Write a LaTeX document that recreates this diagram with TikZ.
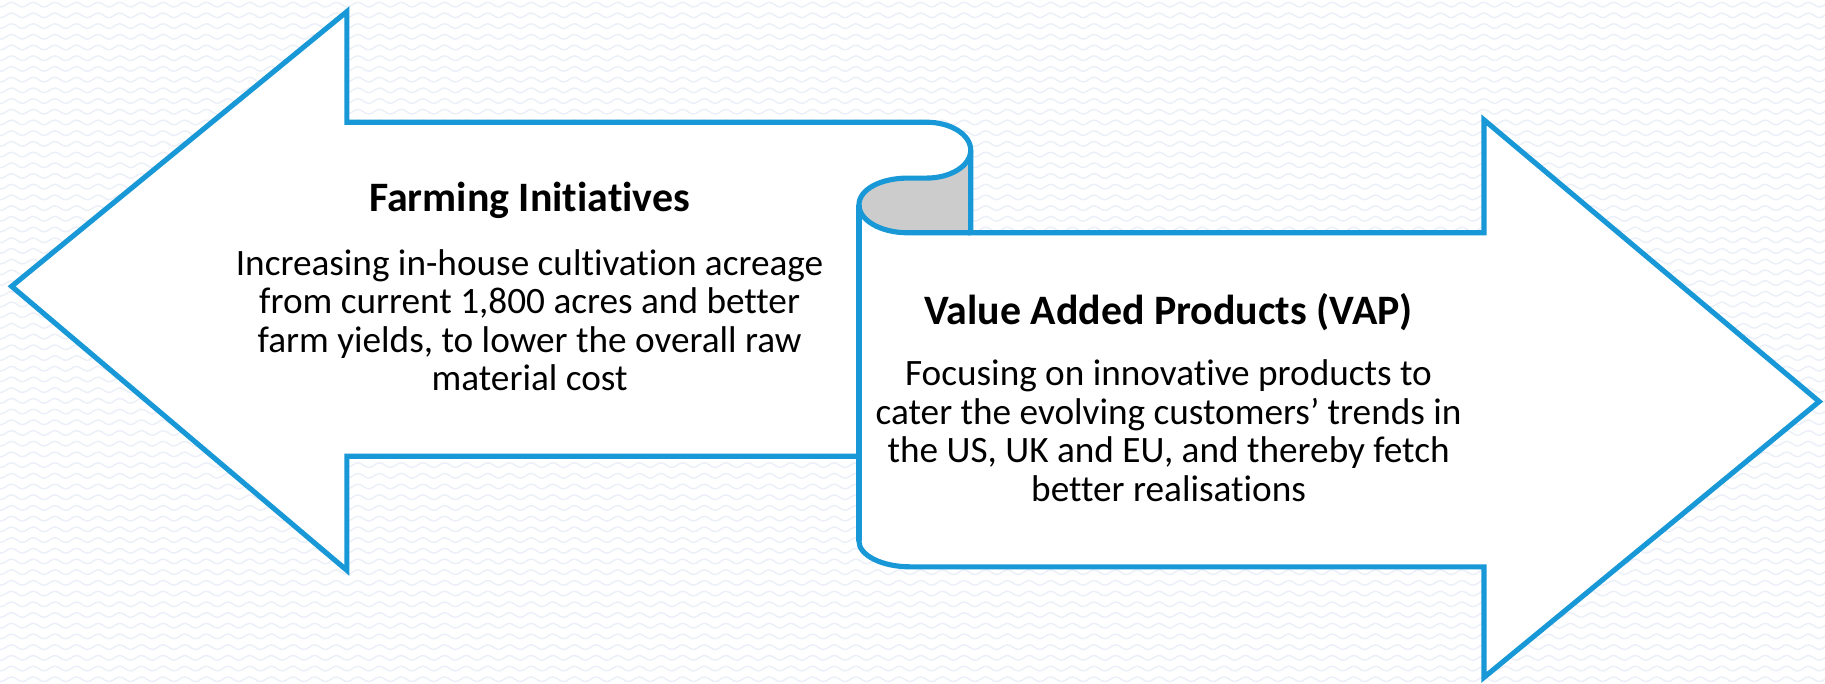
\documentclass[tikz,border=0pt]{standalone}
\usepackage{fontspec}
\setmainfont{Carlito}[Ligatures={NoCommon}]
\definecolor{scrollblue}{RGB}{24,152,214}
\definecolor{curlgray}{RGB}{204,204,204}
\definecolor{wavegray}{RGB}{235,239,248}
\tikzset{
  outline/.style={draw=scrollblue, line width=4.4pt, miter limit=20},
  wave/.style={draw=wavegray, line width=1.2pt},
  headtext/.style={font=\bfseries\fontsize{36}{40}\selectfont, inner sep=0pt},
  bodytext/.style={font=\fontsize{32}{33}\selectfont, align=center, inner sep=0pt},
}
\begin{document}
\begin{tikzpicture}[x=1pt, y=-1pt]
  % canvas
  \fill[white] (0,0) rectangle (1568,587);
  \useasboundingbox (0,0) rectangle (1568,587);
  % faint wavy background texture
  \begin{scope}
    \clip (0,0) rectangle (1568,587);
    \foreach \r in {0,...,64} {
      \draw[wave] (-4,{4+9.2*\r})
        foreach \i in {1,...,86} { sin ++(4.65,2) cos ++(4.65,-2) sin ++(4.65,-2) cos ++(4.65,2) };
    }
  \end{scope}

  % outer outline of the two opposing arrows joined by the scroll
  \path[fill=white]
    (298,105) -- (796,105)
    .. controls (817,105) and (834,115.7) .. (834,129)
    -- (834,200) -- (1275,200) -- (1275,103) -- (1563,345) -- (1275,582)
    -- (1275,487) -- (782,487)
    .. controls (757.7,487) and (738,477.1) .. (738,465)
    -- (738,392) -- (298,392) -- (298,490) -- (10,246) -- (298,10) -- cycle;

  % rolled part of the scroll
  \path[fill=curlgray]
    (834,129) .. controls (834,142.3) and (817,153) .. (796,153)
    -- (780,153)
    .. controls (756.8,153) and (738,162.7) .. (738,176)
    .. controls (738,189.3) and (756.8,200) .. (780,200)
    -- (834,200) -- cycle;

  % strokes
  \draw[outline]
    (298,105) -- (796,105)
    .. controls (817,105) and (834,115.7) .. (834,129)
    -- (834,200) -- (1275,200) -- (1275,103) -- (1563,345) -- (1275,582)
    -- (1275,487) -- (782,487)
    .. controls (757.7,487) and (738,477.1) .. (738,465)
    -- (738,392) -- (298,392) -- (298,490) -- (10,246) -- (298,10) -- cycle;
  \draw[outline, line join=round]
    (834,129) .. controls (834,142.3) and (817,153) .. (796,153)
    -- (780,153)
    .. controls (756.8,153) and (738,162.7) .. (738,176)
    .. controls (738,189.3) and (756.8,200) .. (780,200)
    -- (834,200);
  \draw[outline] (738,176) -- (738,465);

  % texts
  \node[headtext] (farmtitle) at (455,172) {Farming Initiatives};
  \node[bodytext] (farmbody) at (455,275)
    {Increasing in-house cultivation acreage\\
     from current 1,800 acres and better\\
     farm yields, to lower the overall raw\\
     material cost};
  \node[headtext] (vaptitle) at (1004,268) {Value Added Products (VAP)};
  \node[bodytext] (vapbody) at (1004,370)
    {Focusing on innovative products to\\
     cater the evolving customers’ trends in\\
     the US, UK and EU, and thereby fetch\\
     better realisations};
\end{tikzpicture}
\end{document}
